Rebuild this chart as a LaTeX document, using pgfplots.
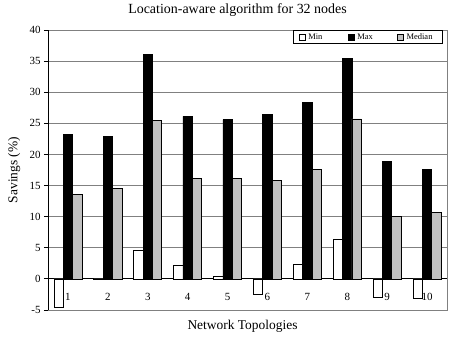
\documentclass[border=0pt]{standalone}
\usepackage{fontspec}
\setmainfont{Liberation Serif}
\usepackage{pgfplots}
\pgfplotsset{compat=1.18}
\definecolor{medgray}{HTML}{C0C0C0}
\definecolor{gridgray}{HTML}{808080}
\pgfplotsset{sq legend/.style={legend image code/.code={\draw[##1,line width=0.6pt] (0bp,-2.8bp) rectangle (5.6bp,2.8bp);}}}
\begin{document}
\begin{tikzpicture}
\begin{axis}[
  scale only axis, width=399bp, height=280bp,
  xmin=0.5, xmax=10.5, ymin=-5, ymax=40,
  /pgf/number format/assume math mode=true,
  axis x line*=middle, axis y line*=left,
  axis line style={black, line width=0.8pt},
  xtick={1,...,10},
  xticklabels={1,2,3,4,5,6,7,8,9,10},
  xticklabel style={anchor=center, yshift=-14bp, font=\fontsize{11}{12}\selectfont},
  x tick style={draw=none},
  extra x ticks={1.5,2.5,...,9.5},
  extra x tick labels={},
  extra x tick style={tick style={draw=black, line width=0.8pt}, tick align=outside, major tick length=3.5bp},
  ytick={-5,0,...,40},
  yticklabels={-5,0,5,10,15,20,25,30,35,40},
  yticklabel style={font=\fontsize{11}{12}\selectfont},
  y tick style={black, line width=0.8pt}, tick align=outside, major tick length=4bp,
  ymajorgrids, grid style={gridgray, line width=0.9pt},
  ybar, bar width=0.235,
  title={Location-aware algorithm for 32 nodes},
  title style={at={(axis description cs:0.5,1)}, anchor=base, yshift=11bp, xshift=-10bp, font=\fontsize{14}{16}\selectfont},
  xlabel={Network Topologies},
  xlabel style={at={(axis description cs:0.5,-0.068)}, anchor=base, xshift=-5bp, font=\fontsize{13.5}{15}\selectfont},
  ylabel={Savings (\%)},
  ylabel style={at={(axis description cs:-0.085,0.5)}, anchor=center, font=\fontsize{13.5}{15}\selectfont},
  legend columns=3,
  legend style={at={(axis description cs:0.99,1)}, anchor=north east, draw=black, line width=0.8pt,
    font=\fontsize{8.5}{9}\selectfont, inner xsep=6bp, inner ysep=1bp,
    /tikz/every odd column/.append style={column sep=1bp}},
]
\addplot[sq legend, draw=black, line width=0.7pt, fill=white, bar shift=-0.235] coordinates {
(1,-4.5) (2,-0.15) (3,4.6) (4,2.2) (5,0.4) (6,-2.5) (7,2.35) (8,6.35) (9,-2.9) (10,-3.05)};
\addlegendentry{\makebox[38bp][l]{Min}}
\addplot[sq legend, draw=black, line width=0.7pt, fill=black, bar shift=0] coordinates {
(1,23.2) (2,22.9) (3,36.1) (4,26.1) (5,25.6) (6,26.5) (7,28.3) (8,35.5) (9,18.9) (10,17.6)};
\addlegendentry{\makebox[38bp][l]{Max}}
\addplot[sq legend, draw=black, line width=0.7pt, fill=medgray, bar shift=0.235] coordinates {
(1,13.6) (2,14.5) (3,25.4) (4,16.1) (5,16.1) (6,15.8) (7,17.6) (8,25.7) (9,10.0) (10,10.7)};
\addlegendentry{\makebox[28bp][l]{Median}}
\end{axis}
\draw[gridgray, line width=0.8pt] (0,0) -- (399bp,0) -- (399bp,280bp);
\draw[black, line width=0.8pt] (0,0) -- (0,280bp);
\pgfresetboundingbox
\useasboundingbox (-48bp,-29bp) rectangle (401bp,310bp);
\end{tikzpicture}
\end{document}
